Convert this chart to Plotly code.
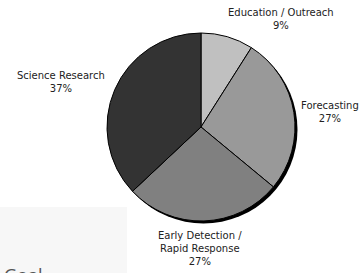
import plotly.graph_objects as go

W, H = 362, 273

labels = ["Education / Outreach", "Forecasting", "Early Detection /<br>Rapid Response", "Science Research"]
values = [9, 27, 27, 37]
percent_text = ["9%", "27%", "27%", "37%"]
colors = ["#c0c0c0", "#999999", "#808080", "#333333"]

# label anchor positions in pixels (layout/style)
label_pos = [(281, 19), (330, 112), (200, 248), (61, 82)]

cx, cy, r = 201, 127, 94

def px(x):
    return x / W

def py(y):
    return 1 - y / H

fig = go.Figure()
fig.add_trace(go.Pie(
    labels=labels,
    values=values,
    sort=False,
    direction="clockwise",
    rotation=0,
    marker=dict(colors=colors, line=dict(color="#000000", width=1)),
    textinfo="none",
    hoverinfo="label+percent",
    domain=dict(x=[px(cx - r), px(cx + r)], y=[py(cy + r), py(cy - r)]),
    showlegend=False,
))

shapes = [
    # light gray panel bottom-left
    dict(type="rect", xref="paper", yref="paper", x0=0, x1=px(127), y0=0, y1=py(207),
         fillcolor="#f7f7f7", line=dict(width=0), layer="below"),
    # pie shadow
    dict(type="circle", xref="paper", yref="paper",
         x0=px(cx - r + 2.5), x1=px(cx + r + 2.5), y0=py(cy + r + 2.5), y1=py(cy - r + 2.5),
         fillcolor="#000000", line=dict(width=0), layer="below"),
]

annotations = []
for lab, pct, (x, y) in zip(labels, percent_text, label_pos):
    annotations.append(dict(
        x=px(x), y=py(y), xref="paper", yref="paper",
        text=f"{lab}<br>{pct}", showarrow=False,
        xanchor="center", yanchor="middle", align="center",
        font=dict(family="DejaVu Sans, Verdana, sans-serif", size=10, color="#222222"),
    ))
annotations.append(dict(
    x=px(2), y=py(261), xref="paper", yref="paper", text="Goal", showarrow=False,
    xanchor="left", yanchor="top",
    font=dict(family="Open Sans, DejaVu Sans, sans-serif", size=18, color="#555555"),
))

fig.update_layout(
    width=W, height=H,
    margin=dict(l=0, r=0, t=0, b=0),
    paper_bgcolor="#ffffff",
    plot_bgcolor="#ffffff",
    shapes=shapes,
    annotations=annotations,
)

fig.write_html(
    "out.html",
    config={"displayModeBar": False},
    post_script="document.body.style.margin='0';document.body.style.overflow='hidden';",
)
